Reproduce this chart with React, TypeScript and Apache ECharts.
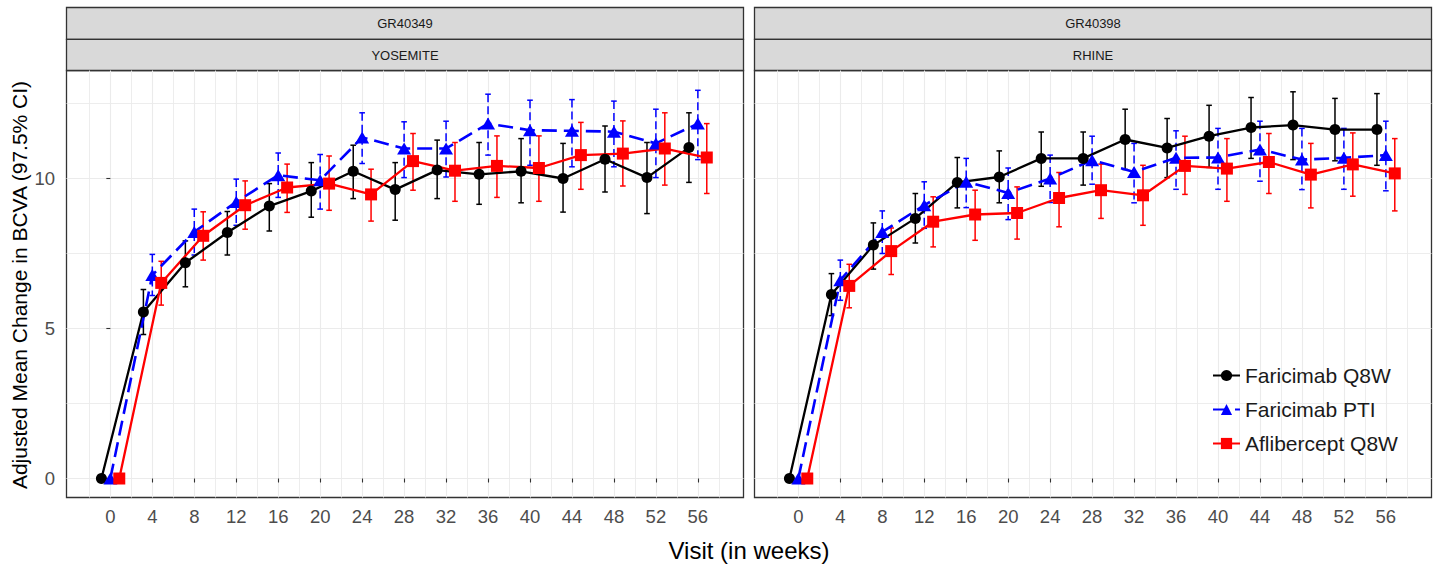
import React, { useEffect, useRef } from "react";
import * as echarts from "echarts";

const FONT = "'Liberation Sans', Arial, sans-serif";

// Visit weeks
const weeks = [0, 4, 8, 12, 16, 20, 24, 28, 32, 36, 40, 44, 48, 52, 56];
const xTickLabels = [0, 4, 8, 12, 16, 20, 24, 28, 32, 36, 40, 44, 48, 52, 56];
const xMinorTicks = [-2, 2, 6, 10, 14, 18, 22, 26, 30, 34, 38, 42, 46, 50, 54, 58];
const yTickLabels = [0, 5, 10];
const yMinorTicks = [2.5, 7.5, 12.5];

const seriesNames = ["Faricimab Q8W", "Faricimab PTI", "Aflibercept Q8W"];
const panelStudies = ["GR40349", "GR40398"];
const panelTrials = ["YOSEMITE", "RHINE"];

// YOSEMITE
const yoQ8wMean = [0, 5.55, 7.19, 8.2, 9.08, 9.58, 10.24, 9.63, 10.28, 10.14, 10.24, 10.0, 10.64, 10.03, 11.03];
const yoQ8wLow = [0, 4.8, 6.39, 7.45, 8.25, 8.71, 9.33, 8.61, 9.33, 9.14, 9.19, 8.88, 9.55, 8.83, 9.87];
const yoQ8wHigh = [0, 6.3, 7.92, 8.9, 9.83, 10.53, 11.11, 10.53, 11.28, 11.2, 11.33, 11.17, 11.75, 11.2, 12.19];

const yoPtiMean = [0, 6.78, 8.22, 9.22, 10.11, 9.94, 11.37, 11.0, 11.0, 11.83, 11.61, 11.59, 11.56, 11.17, 11.83];
const yoPtiLow = [0, 6.1, 7.45, 8.44, 9.37, 8.98, 10.5, 10.03, 10.05, 10.78, 10.44, 10.39, 10.39, 10.03, 10.63];
const yoPtiHigh = [0, 7.47, 8.98, 9.98, 10.85, 10.8, 12.19, 11.89, 11.91, 12.81, 12.61, 12.63, 12.58, 12.31, 12.94];

const yoAflMean = [0, 6.52, 8.09, 9.11, 9.7, 9.83, 9.47, 10.58, 10.26, 10.42, 10.35, 10.78, 10.83, 11.0, 10.7];
const yoAflLow = [0, 5.78, 7.28, 8.31, 8.87, 8.94, 8.58, 9.61, 9.24, 9.37, 9.24, 9.64, 9.75, 9.78, 9.5];
const yoAflHigh = [0, 7.24, 8.89, 9.92, 10.48, 10.75, 10.31, 11.5, 11.2, 11.42, 11.42, 11.87, 11.92, 12.19, 11.83];

// RHINE
const rhQ8wMean = [0, 6.13, 7.78, 8.67, 9.87, 10.05, 10.67, 10.67, 11.3, 11.02, 11.41, 11.7, 11.78, 11.63, 11.63];
const rhQ8wLow = [0, 5.43, 6.98, 7.85, 9.02, 9.19, 9.74, 9.78, 10.3, 10.03, 10.37, 10.67, 10.63, 10.59, 10.44];
const rhQ8wHigh = [0, 6.83, 8.52, 9.5, 10.7, 10.92, 11.55, 11.55, 12.31, 12.0, 12.44, 12.7, 12.89, 12.67, 12.83];

const rhPtiMean = [0, 6.61, 8.22, 9.11, 9.89, 9.52, 10.0, 10.61, 10.22, 10.69, 10.7, 10.97, 10.63, 10.69, 10.78];
const rhPtiLow = [0, 5.94, 7.5, 8.34, 9.03, 8.63, 9.2, 9.81, 9.19, 9.64, 9.64, 9.91, 9.63, 9.64, 9.59];
const rhPtiHigh = [0, 7.28, 8.92, 9.89, 10.67, 10.35, 10.78, 11.41, 11.17, 11.59, 11.67, 11.91, 11.67, 11.67, 11.91];

const rhAflMean = [0, 6.42, 7.58, 8.56, 8.8, 8.85, 9.35, 9.61, 9.44, 10.42, 10.33, 10.55, 10.13, 10.47, 10.17];
const rhAflLow = [0, 5.69, 6.8, 7.72, 7.94, 7.98, 8.39, 8.67, 8.44, 9.47, 9.24, 9.5, 9.02, 9.41, 8.92];
const rhAflHigh = [0, 7.14, 8.35, 9.39, 9.61, 9.72, 10.2, 10.48, 10.44, 11.41, 11.33, 11.5, 11.17, 11.52, 11.33];

const dodge = [-0.85, 0, 0.85];
const colors = ["#000000", "#0000FF", "#FF0000"];

const X_MIN = -4.18;
const X_MAX = 60.35;
const Y_MIN = -0.633;
const Y_MAX = 13.6;

const PANEL_TOP = 70.5;
const PANEL_H = 427;
const PANEL_W = 677;
const PANEL_LEFTS = [66.5, 754.5];

function buildOption() {
  const panels = [
    {
      means: [yoQ8wMean, yoPtiMean, yoAflMean],
      lows: [yoQ8wLow, yoPtiLow, yoAflLow],
      highs: [yoQ8wHigh, yoPtiHigh, yoAflHigh],
    },
    {
      means: [rhQ8wMean, rhPtiMean, rhAflMean],
      lows: [rhQ8wLow, rhPtiLow, rhAflLow],
      highs: [rhQ8wHigh, rhPtiHigh, rhAflHigh],
    },
  ];

  const grids = PANEL_LEFTS.map((left) => ({
    left,
    top: PANEL_TOP,
    width: PANEL_W,
    height: PANEL_H,
    show: true,
    borderColor: "#333333",
    borderWidth: 1.3,
    backgroundColor: "transparent",
    containLabel: false,
  }));

  const xAxes: any[] = [];
  const yAxes: any[] = [];
  PANEL_LEFTS.forEach((_, p) => {
    xAxes.push({
      type: "value",
      gridIndex: p,
      min: X_MIN,
      max: X_MAX,
      position: "bottom",
      axisLine: { show: false },
      axisTick: {
        show: true,
        customValues: xTickLabels,
        length: 4,
        lineStyle: { color: "#333333", width: 1.1 },
      },
      axisLabel: {
        customValues: xTickLabels,
        fontSize: 18.5,
        color: "#4D4D4D",
        fontFamily: FONT,
        margin: 9,
      },
      splitLine: { show: true, lineStyle: { color: "#EBEBEB", width: 1.1 } },
    });
    xAxes.push({
      type: "value",
      gridIndex: p,
      min: X_MIN,
      max: X_MAX,
      position: "bottom",
      axisLine: { show: false },
      axisTick: { show: false, customValues: xMinorTicks },
      axisLabel: { show: false, customValues: xMinorTicks },
      splitLine: { show: true, lineStyle: { color: "#EBEBEB", width: 0.9 } },
    });
    yAxes.push({
      type: "value",
      gridIndex: p,
      min: Y_MIN,
      max: Y_MAX,
      position: "left",
      axisLine: { show: false },
      axisTick: {
        show: p === 0,
        customValues: yTickLabels,
        length: 4,
        lineStyle: { color: "#333333", width: 1.1 },
      },
      axisLabel: {
        show: p === 0,
        customValues: yTickLabels,
        fontSize: 18.5,
        color: "#4D4D4D",
        fontFamily: FONT,
        margin: 11.5,
      },
      splitLine: { show: true, lineStyle: { color: "#EBEBEB", width: 1.1 } },
    });
    yAxes.push({
      type: "value",
      gridIndex: p,
      min: Y_MIN,
      max: Y_MAX,
      position: "left",
      axisLine: { show: false },
      axisTick: { show: false, customValues: yMinorTicks },
      axisLabel: { show: false, customValues: yMinorTicks },
      splitLine: { show: true, lineStyle: { color: "#EBEBEB", width: 0.9 } },
    });
  });

  const series: any[] = [];
  panels.forEach((panel, p) => {
    const xi = p * 2;
    const yi = p * 2;
    seriesNames.forEach((name, s) => {
      const color = colors[s];
      const dashed = s === 1;
      series.push({
        type: "custom",
        name: "errbar-" + p + "-" + s,
        xAxisIndex: xi,
        yAxisIndex: yi,
        silent: true,
        z: 2,
        data: weeks.map((w, i) => [w + dodge[s], panel.lows[s][i], panel.highs[s][i]]),
        encode: { x: 0, y: [1, 2] },
        renderItem: (params: any, api: any) => {
          const x = api.value(0);
          const lo = api.value(1);
          const hi = api.value(2);
          if (hi - lo <= 0) return null;
          const top = api.coord([x, hi]);
          const bot = api.coord([x, lo]);
          const cap = 2.8;
          const vStyle: any = { stroke: color, lineWidth: 1.5, fill: null };
          if (dashed) vStyle.lineDash = [8, 4];
          const cStyle = { stroke: color, lineWidth: 1.5, fill: null };
          return {
            type: "group",
            children: [
              { type: "line", shape: { x1: top[0], y1: top[1], x2: bot[0], y2: bot[1] }, style: vStyle },
              { type: "line", shape: { x1: top[0] - cap, y1: top[1], x2: top[0] + cap, y2: top[1] }, style: cStyle },
              { type: "line", shape: { x1: bot[0] - cap, y1: bot[1], x2: bot[0] + cap, y2: bot[1] }, style: cStyle },
            ],
          };
        },
      });
    });
    seriesNames.forEach((name, s) => {
      const color = colors[s];
      series.push({
        type: "line",
        name,
        xAxisIndex: xi,
        yAxisIndex: yi,
        z: 3,
        data: weeks.map((w, i) => [w + dodge[s], panel.means[s][i]]),
        symbol: s === 0 ? "circle" : s === 1 ? "triangle" : "rect",
        symbolSize: s === 0 ? 11 : s === 1 ? [14, 12] : 12,
        showSymbol: true,
        itemStyle: { color, opacity: 1 },
        lineStyle: { color, width: s === 1 ? 2.6 : 2.3, type: s === 1 ? [15, 7] : "solid" },
        emphasis: { disabled: true },
      });
    });
  });

  const graphics: any[] = [];
  PANEL_LEFTS.forEach((left, p) => {
    graphics.push({
      type: "rect",
      shape: { x: left, y: 7.5, width: PANEL_W, height: 31.8 },
      style: { fill: "#D9D9D9", stroke: "#333333", lineWidth: 1.3 },
    });
    graphics.push({
      type: "rect",
      shape: { x: left, y: 39.3, width: PANEL_W, height: 31.2 },
      style: { fill: "#D9D9D9", stroke: "#333333", lineWidth: 1.3 },
    });
    graphics.push({
      type: "text",
      x: left + PANEL_W / 2,
      y: 23.4,
      style: {
        text: panelStudies[p],
        fontSize: 13,
        fontFamily: FONT,
        fill: "#1A1A1A",
        align: "center",
        verticalAlign: "middle",
      },
    });
    graphics.push({
      type: "text",
      x: left + PANEL_W / 2,
      y: 55,
      style: {
        text: panelTrials[p],
        fontSize: 13,
        fontFamily: FONT,
        fill: "#1A1A1A",
        align: "center",
        verticalAlign: "middle",
      },
    });
  });
  graphics.push({
    type: "text",
    x: 749,
    y: 550,
    style: {
      text: "Visit (in weeks)",
      fontSize: 24,
      fontFamily: FONT,
      fill: "#000000",
      align: "center",
      verticalAlign: "middle",
    },
  });
  graphics.push({
    type: "text",
    x: 19,
    y: 285,
    rotation: Math.PI / 2,
    style: {
      text: "Adjusted Mean Change in BCVA (97.5% CI)",
      fontSize: 21,
      fontFamily: FONT,
      fill: "#000000",
      align: "center",
      verticalAlign: "middle",
    },
  });

  return {
    animation: false,
    textStyle: { fontFamily: FONT },
    grid: grids,
    xAxis: xAxes,
    yAxis: yAxes,
    series,
    legend: {
      data: seriesNames,
      orient: "vertical",
      left: 1212,
      top: 365,
      padding: 0,
      itemWidth: 27,
      itemHeight: 14,
      itemGap: 13,
      selectedMode: false,
      textStyle: { fontSize: 21, color: "#1A1A1A", fontFamily: FONT },
    },
    graphic: graphics,
  };
}

export default function App() {
  const ref = useRef<HTMLDivElement>(null);
  useEffect(() => {
    if (!ref.current) return;
    const chart = echarts.init(ref.current, null, { renderer: "svg" });
    chart.setOption(buildOption() as any);
    return () => chart.dispose();
  }, []);
  return (
    <div
      ref={ref}
      style={{ position: "absolute", left: 0, top: 0, width: 1438, height: 565, background: "#ffffff" }}
    />
  );
}
